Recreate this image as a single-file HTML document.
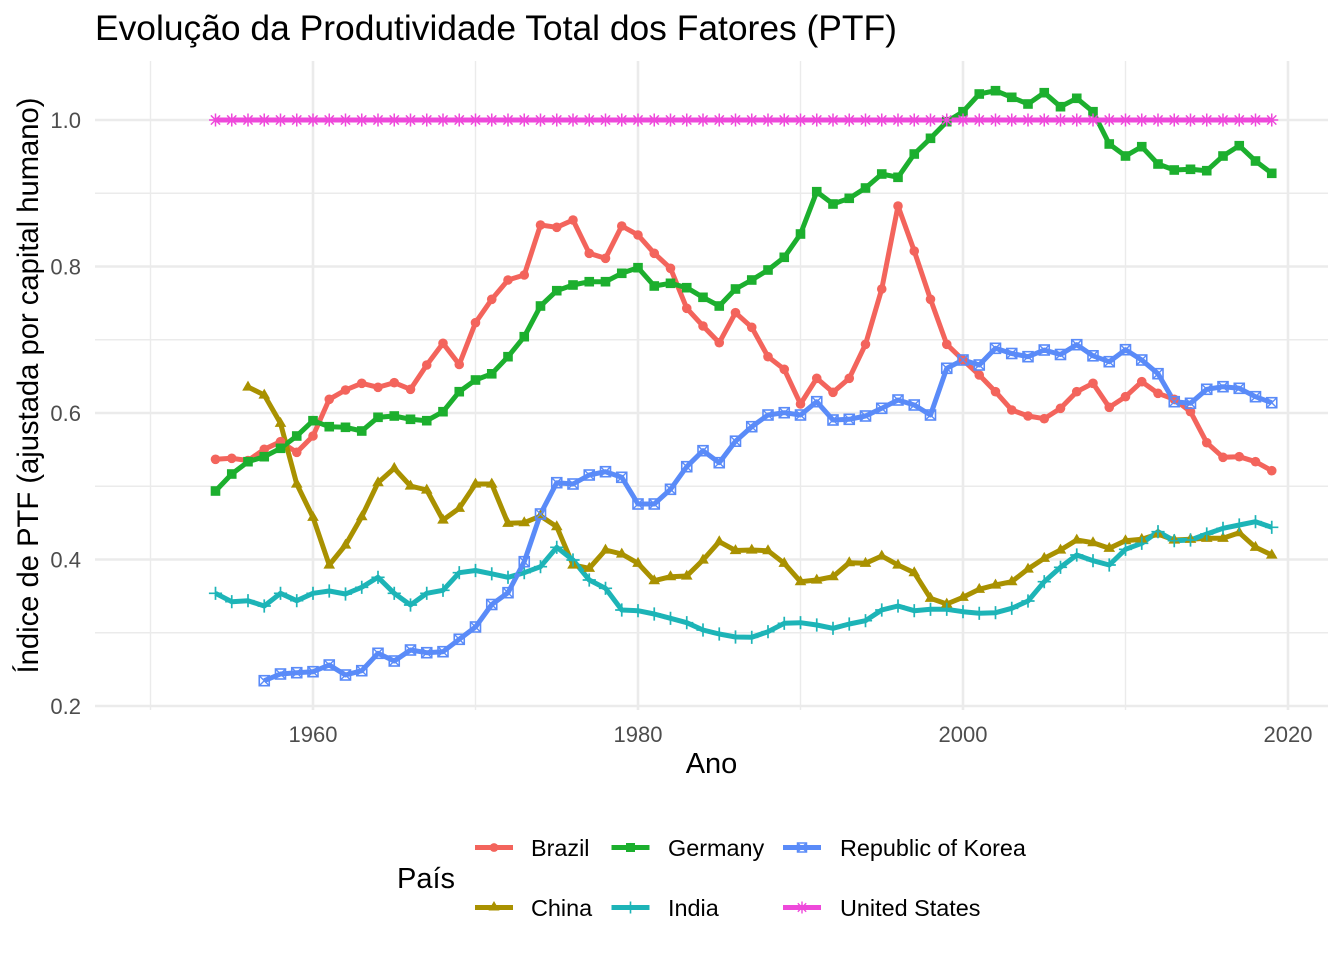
<!DOCTYPE html>
<html>
<head>
<meta charset="utf-8">
<style>
  html,body{margin:0;padding:0;background:#ffffff;}
  svg{display:block;}
  text{font-family:"Liberation Sans", Arial, Helvetica, sans-serif;}
</style>
</head>
<body>
<svg width="1344" height="960" viewBox="0 0 1344 960" xmlns="http://www.w3.org/2000/svg">
  <defs>
    <marker id="mBr" markerUnits="userSpaceOnUse" markerWidth="20" markerHeight="20" refX="10" refY="10" style="overflow:visible">
      <circle cx="10" cy="10" r="4.8" fill="#F3645C"/>
    </marker>
    <marker id="mCh" markerUnits="userSpaceOnUse" markerWidth="20" markerHeight="20" refX="10" refY="10" style="overflow:visible">
      <polygon points="10,3.6 15.8,13.6 4.2,13.6" fill="#A99100"/>
    </marker>
    <marker id="mGe" markerUnits="userSpaceOnUse" markerWidth="20" markerHeight="20" refX="10" refY="10" style="overflow:visible">
      <rect x="5.2" y="5.2" width="9.6" height="9.6" fill="#1CAF2E"/>
    </marker>
    <marker id="mIn" markerUnits="userSpaceOnUse" markerWidth="20" markerHeight="20" refX="10" refY="10" style="overflow:visible">
      <path d="M3.4,10 H16.6 M10,3.4 V16.6" stroke="#1DB4B7" stroke-width="1.7" fill="none"/>
    </marker>
    <marker id="mKo" markerUnits="userSpaceOnUse" markerWidth="20" markerHeight="20" refX="10" refY="10" style="overflow:visible">
      <rect x="5" y="5" width="10" height="10" stroke="#5A8BF8" stroke-width="1.6" fill="none"/>
      <path d="M5,5 L15,15 M15,5 L5,15" stroke="#5A8BF8" stroke-width="1.4" fill="none"/>
    </marker>
    <marker id="mUS" markerUnits="userSpaceOnUse" markerWidth="20" markerHeight="20" refX="10" refY="10" style="overflow:visible">
      <path d="M3.5,10 H16.5 M10,3.5 V16.5 M5.4,5.4 L14.6,14.6 M14.6,5.4 L5.4,14.6" stroke="#EE49DA" stroke-width="1.5" fill="none"/>
    </marker>
  </defs>

  <rect x="0" y="0" width="1344" height="960" fill="#ffffff"/>

  <!-- Title -->
  <text x="95" y="40" font-size="35.4" fill="#000000">Evolução da Produtividade Total dos Fatores (PTF)</text>

  <!-- Grid: minor -->
  <g stroke="#EBEBEB" stroke-width="1.4" fill="none">
    <line x1="95" y1="632.75" x2="1328" y2="632.75"/>
    <line x1="95" y1="486.25" x2="1328" y2="486.25"/>
    <line x1="95" y1="339.75" x2="1328" y2="339.75"/>
    <line x1="95" y1="193.25" x2="1328" y2="193.25"/>
    <line x1="150.5" y1="61" x2="150.5" y2="710"/>
    <line x1="475.5" y1="61" x2="475.5" y2="710"/>
    <line x1="800.5" y1="61" x2="800.5" y2="710"/>
    <line x1="1125.5" y1="61" x2="1125.5" y2="710"/>
  </g>
  <!-- Grid: major -->
  <g stroke="#EBEBEB" stroke-width="2.6" fill="none">
    <line x1="95" y1="706" x2="1328" y2="706"/>
    <line x1="95" y1="559.5" x2="1328" y2="559.5"/>
    <line x1="95" y1="413" x2="1328" y2="413"/>
    <line x1="95" y1="266.5" x2="1328" y2="266.5"/>
    <line x1="95" y1="120" x2="1328" y2="120"/>
    <line x1="313" y1="61" x2="313" y2="710"/>
    <line x1="638" y1="61" x2="638" y2="710"/>
    <line x1="963" y1="61" x2="963" y2="710"/>
    <line x1="1288" y1="61" x2="1288" y2="710"/>
  </g>

  <!-- Y tick labels -->
  <g font-size="22" fill="#4D4D4D" text-anchor="end">
    <text x="81" y="713.9">0.2</text>
    <text x="81" y="567.4">0.4</text>
    <text x="81" y="420.9">0.6</text>
    <text x="81" y="274.4">0.8</text>
    <text x="81" y="127.9">1.0</text>
  </g>
  <!-- X tick labels -->
  <g font-size="22" fill="#4D4D4D" text-anchor="middle">
    <text x="313" y="742">1960</text>
    <text x="638" y="742">1980</text>
    <text x="963" y="742">2000</text>
    <text x="1288" y="742">2020</text>
  </g>

  <!-- Axis titles -->
  <text x="711.5" y="773" font-size="29" text-anchor="middle" fill="#000000">Ano</text>
  <text transform="translate(38,385.5) rotate(-90)" x="0" y="0" font-size="29.2" text-anchor="middle" fill="#000000">Índice de PTF (ajustada por capital humano)</text>

  <!-- Series lines -->
  <g fill="none" stroke-width="5" stroke-linejoin="round" stroke-linecap="butt">
    <polyline stroke="#F3645C" points="215.5,459.3 231.75,458.3 248,460.5 264.25,449.3 280.5,441.7 296.75,452.3 313,436 329.25,399.3 345.5,390 361.75,383.3 378,387.3 394.25,382.7 410.5,389.3 426.75,365 443,343.3 459.25,364.5 475.5,322.7 491.75,299.3 508,280 524.25,275 540.5,225 556.75,227.3 573,220 589.25,253.3 605.5,258.3 621.75,226 638,235 654.25,253.3 670.5,268.3 686.75,308.3 703,326 719.25,342.7 735.5,312.7 751.75,327.3 768,356.7 784.25,369.3 800.5,404 816.75,378.3 833,392.3 849.25,378.3 865.5,344.3 881.75,289 898,206 914.25,251 930.5,299.3 946.75,344.3 963,360 979.25,375 995.5,391.7 1011.75,410 1028,416 1044.25,418.7 1060.5,408.3 1076.75,391.7 1093,383.3 1109.25,407.3 1125.5,396.7 1141.75,381.7 1158,393.3 1174.25,399.3 1190.5,411.7 1206.75,442.7 1223,457.3 1239.25,456.7 1255.5,461.7 1271.75,470.7"/>
    <polyline stroke="#A99100" points="248,387 264.25,395 280.5,423.3 296.75,484 313,517.3 329.25,565 345.5,545 361.75,516.7 378,482.7 394.25,468.3 410.5,486 426.75,490 443,520 459.25,508.3 475.5,484 491.75,484 508,523.3 524.25,522.7 540.5,516 556.75,526.7 573,565 589.25,568.3 605.5,550 621.75,554 638,563.3 654.25,580.7 670.5,576.7 686.75,576 703,560 719.25,541.7 735.5,550.5 751.75,550 768,550.7 784.25,563.3 800.5,581.7 816.75,580 833,576.7 849.25,562.7 865.5,563.3 881.75,556 898,565 914.25,572.7 930.5,598.3 946.75,604 963,597.3 979.25,589.3 995.5,585 1011.75,581.7 1028,569 1044.25,558.3 1060.5,550 1076.75,540 1093,542.7 1109.25,548.3 1125.5,540.7 1141.75,539.3 1158,534 1174.25,540 1190.5,539.3 1206.75,538.3 1223,538.3 1239.25,532.7 1255.5,547.3 1271.75,555"/>
    <polyline stroke="#1CAF2E" points="215.5,491 231.75,474 248,461.7 264.25,456.7 280.5,448.3 296.75,436 313,420.7 329.25,426.7 345.5,427.3 361.75,431 378,417.3 394.25,416 410.5,419.3 426.75,420.7 443,411.7 459.25,391.7 475.5,380 491.75,373.8 508,356.7 524.25,336.7 540.5,306 556.75,290.7 573,285 589.25,281.7 605.5,281.7 621.75,273.3 638,267.7 654.25,286 670.5,283.3 686.75,287.7 703,297.3 719.25,306 735.5,289 751.75,280 768,270 784.25,257.3 800.5,234 816.75,191.7 833,204 849.25,198.3 865.5,188 881.75,174 898,177.3 914.25,154 930.5,138.3 946.75,121.7 963,111.7 979.25,94 995.5,90.7 1011.75,97.3 1028,104 1044.25,92.7 1060.5,106.7 1076.75,98.3 1093,111.7 1109.25,144 1125.5,156 1141.75,146.7 1158,164 1174.25,170 1190.5,169.3 1206.75,170.7 1223,156 1239.25,145.7 1255.5,161 1271.75,173.3"/>
    <polyline stroke="#1DB4B7" points="215.5,593.3 231.75,601.7 248,600.7 264.25,606 280.5,593.3 296.75,600.7 313,593.3 329.25,591 345.5,594 361.75,587.3 378,577.3 394.25,593.3 410.5,605 426.75,593.3 443,590.3 459.25,572.7 475.5,570.5 491.75,573.8 508,577.3 524.25,572.7 540.5,566.7 556.75,547.3 573,560 589.25,580 605.5,588.3 621.75,610 638,610.7 654.25,614 670.5,618.3 686.75,622.7 703,630 719.25,634 735.5,637 751.75,637.3 768,631.7 784.25,623.3 800.5,622.7 816.75,625 833,628.3 849.25,624 865.5,620.7 881.75,610 898,606 914.25,610.7 930.5,609.3 946.75,609.3 963,611.7 979.25,613.3 995.5,612.7 1011.75,608.3 1028,601 1044.25,581.7 1060.5,567.3 1076.75,555 1093,560.7 1109.25,565 1125.5,549.3 1141.75,543.3 1158,531.7 1174.25,540.7 1190.5,540 1206.75,534 1223,528.3 1239.25,525 1255.5,521.7 1271.75,527.3"/>
    <polyline stroke="#5A8BF8" points="264.25,680.7 280.5,674 296.75,672.7 313,671.7 329.25,665 345.5,675 361.75,670.7 378,653.3 394.25,661 410.5,650 426.75,652.7 443,651.7 459.25,639.3 475.5,627 491.75,604.5 508,592.7 524.25,561.7 540.5,514 556.75,482.7 573,484 589.25,475 605.5,471.7 621.75,477.3 638,504 654.25,504 670.5,489.3 686.75,466.7 703,450.7 719.25,462.7 735.5,441.2 751.75,426.7 768,415 784.25,412.7 800.5,415 816.75,401.7 833,420 849.25,419.3 865.5,416 881.75,408.3 898,400 914.25,405 930.5,415 946.75,368.3 963,360 979.25,365 995.5,348.3 1011.75,353.5 1028,356.7 1044.25,350 1060.5,354.5 1076.75,344.7 1093,355.8 1109.25,361.7 1125.5,349.7 1141.75,360 1158,373.7 1174.25,401.7 1190.5,403.3 1206.75,389.3 1223,386.7 1239.25,388.3 1255.5,396.7 1271.75,402.7"/>
    <polyline stroke="#EE49DA" points="215.5,120 1271.75,120"/>
  </g>

  <!-- Series points (drawn after all lines) -->
  <g fill="none" stroke="none">
    <polyline marker-start="url(#mBr)" marker-mid="url(#mBr)" marker-end="url(#mBr)" points="215.5,459.3 231.75,458.3 248,460.5 264.25,449.3 280.5,441.7 296.75,452.3 313,436 329.25,399.3 345.5,390 361.75,383.3 378,387.3 394.25,382.7 410.5,389.3 426.75,365 443,343.3 459.25,364.5 475.5,322.7 491.75,299.3 508,280 524.25,275 540.5,225 556.75,227.3 573,220 589.25,253.3 605.5,258.3 621.75,226 638,235 654.25,253.3 670.5,268.3 686.75,308.3 703,326 719.25,342.7 735.5,312.7 751.75,327.3 768,356.7 784.25,369.3 800.5,404 816.75,378.3 833,392.3 849.25,378.3 865.5,344.3 881.75,289 898,206 914.25,251 930.5,299.3 946.75,344.3 963,360 979.25,375 995.5,391.7 1011.75,410 1028,416 1044.25,418.7 1060.5,408.3 1076.75,391.7 1093,383.3 1109.25,407.3 1125.5,396.7 1141.75,381.7 1158,393.3 1174.25,399.3 1190.5,411.7 1206.75,442.7 1223,457.3 1239.25,456.7 1255.5,461.7 1271.75,470.7"/>
    <polyline marker-start="url(#mCh)" marker-mid="url(#mCh)" marker-end="url(#mCh)" points="248,387 264.25,395 280.5,423.3 296.75,484 313,517.3 329.25,565 345.5,545 361.75,516.7 378,482.7 394.25,468.3 410.5,486 426.75,490 443,520 459.25,508.3 475.5,484 491.75,484 508,523.3 524.25,522.7 540.5,516 556.75,526.7 573,565 589.25,568.3 605.5,550 621.75,554 638,563.3 654.25,580.7 670.5,576.7 686.75,576 703,560 719.25,541.7 735.5,550.5 751.75,550 768,550.7 784.25,563.3 800.5,581.7 816.75,580 833,576.7 849.25,562.7 865.5,563.3 881.75,556 898,565 914.25,572.7 930.5,598.3 946.75,604 963,597.3 979.25,589.3 995.5,585 1011.75,581.7 1028,569 1044.25,558.3 1060.5,550 1076.75,540 1093,542.7 1109.25,548.3 1125.5,540.7 1141.75,539.3 1158,534 1174.25,540 1190.5,539.3 1206.75,538.3 1223,538.3 1239.25,532.7 1255.5,547.3 1271.75,555"/>
    <polyline marker-start="url(#mGe)" marker-mid="url(#mGe)" marker-end="url(#mGe)" points="215.5,491 231.75,474 248,461.7 264.25,456.7 280.5,448.3 296.75,436 313,420.7 329.25,426.7 345.5,427.3 361.75,431 378,417.3 394.25,416 410.5,419.3 426.75,420.7 443,411.7 459.25,391.7 475.5,380 491.75,373.8 508,356.7 524.25,336.7 540.5,306 556.75,290.7 573,285 589.25,281.7 605.5,281.7 621.75,273.3 638,267.7 654.25,286 670.5,283.3 686.75,287.7 703,297.3 719.25,306 735.5,289 751.75,280 768,270 784.25,257.3 800.5,234 816.75,191.7 833,204 849.25,198.3 865.5,188 881.75,174 898,177.3 914.25,154 930.5,138.3 946.75,121.7 963,111.7 979.25,94 995.5,90.7 1011.75,97.3 1028,104 1044.25,92.7 1060.5,106.7 1076.75,98.3 1093,111.7 1109.25,144 1125.5,156 1141.75,146.7 1158,164 1174.25,170 1190.5,169.3 1206.75,170.7 1223,156 1239.25,145.7 1255.5,161 1271.75,173.3"/>
    <polyline marker-start="url(#mIn)" marker-mid="url(#mIn)" marker-end="url(#mIn)" points="215.5,593.3 231.75,601.7 248,600.7 264.25,606 280.5,593.3 296.75,600.7 313,593.3 329.25,591 345.5,594 361.75,587.3 378,577.3 394.25,593.3 410.5,605 426.75,593.3 443,590.3 459.25,572.7 475.5,570.5 491.75,573.8 508,577.3 524.25,572.7 540.5,566.7 556.75,547.3 573,560 589.25,580 605.5,588.3 621.75,610 638,610.7 654.25,614 670.5,618.3 686.75,622.7 703,630 719.25,634 735.5,637 751.75,637.3 768,631.7 784.25,623.3 800.5,622.7 816.75,625 833,628.3 849.25,624 865.5,620.7 881.75,610 898,606 914.25,610.7 930.5,609.3 946.75,609.3 963,611.7 979.25,613.3 995.5,612.7 1011.75,608.3 1028,601 1044.25,581.7 1060.5,567.3 1076.75,555 1093,560.7 1109.25,565 1125.5,549.3 1141.75,543.3 1158,531.7 1174.25,540.7 1190.5,540 1206.75,534 1223,528.3 1239.25,525 1255.5,521.7 1271.75,527.3"/>
    <polyline marker-start="url(#mKo)" marker-mid="url(#mKo)" marker-end="url(#mKo)" points="264.25,680.7 280.5,674 296.75,672.7 313,671.7 329.25,665 345.5,675 361.75,670.7 378,653.3 394.25,661 410.5,650 426.75,652.7 443,651.7 459.25,639.3 475.5,627 491.75,604.5 508,592.7 524.25,561.7 540.5,514 556.75,482.7 573,484 589.25,475 605.5,471.7 621.75,477.3 638,504 654.25,504 670.5,489.3 686.75,466.7 703,450.7 719.25,462.7 735.5,441.2 751.75,426.7 768,415 784.25,412.7 800.5,415 816.75,401.7 833,420 849.25,419.3 865.5,416 881.75,408.3 898,400 914.25,405 930.5,415 946.75,368.3 963,360 979.25,365 995.5,348.3 1011.75,353.5 1028,356.7 1044.25,350 1060.5,354.5 1076.75,344.7 1093,355.8 1109.25,361.7 1125.5,349.7 1141.75,360 1158,373.7 1174.25,401.7 1190.5,403.3 1206.75,389.3 1223,386.7 1239.25,388.3 1255.5,396.7 1271.75,402.7"/>
    <polyline marker-start="url(#mUS)" marker-mid="url(#mUS)" marker-end="url(#mUS)" points="215.5,120 231.75,120 248,120 264.25,120 280.5,120 296.75,120 313,120 329.25,120 345.5,120 361.75,120 378,120 394.25,120 410.5,120 426.75,120 443,120 459.25,120 475.5,120 491.75,120 508,120 524.25,120 540.5,120 556.75,120 573,120 589.25,120 605.5,120 621.75,120 638,120 654.25,120 670.5,120 686.75,120 703,120 719.25,120 735.5,120 751.75,120 768,120 784.25,120 800.5,120 816.75,120 833,120 849.25,120 865.5,120 881.75,120 898,120 914.25,120 930.5,120 946.75,120 963,120 979.25,120 995.5,120 1011.75,120 1028,120 1044.25,120 1060.5,120 1076.75,120 1093,120 1109.25,120 1125.5,120 1141.75,120 1158,120 1174.25,120 1190.5,120 1206.75,120 1223,120 1239.25,120 1255.5,120 1271.75,120"/>
  </g>

  <!-- Legend -->
  <text x="397" y="888" font-size="29" fill="#000000">País</text>
  <g stroke-width="5" fill="none">
    <line x1="475" y1="847.5" x2="513" y2="847.5" stroke="#F3645C"/>
    <line x1="611.5" y1="847.5" x2="649.5" y2="847.5" stroke="#1CAF2E"/>
    <line x1="783" y1="847.5" x2="821" y2="847.5" stroke="#5A8BF8"/>
    <line x1="475" y1="907.5" x2="513" y2="907.5" stroke="#A99100"/>
    <line x1="611.5" y1="907.5" x2="649.5" y2="907.5" stroke="#1DB4B7"/>
    <line x1="783" y1="907.5" x2="821" y2="907.5" stroke="#EE49DA"/>
  </g>
  <!-- legend markers -->
  <circle cx="494" cy="847.5" r="4.4" fill="#F3645C"/>
  <rect x="626" y="843" width="9" height="9" fill="#1CAF2E"/>
  <g stroke="#5A8BF8" stroke-width="1.5" fill="none">
    <rect x="797.5" y="843" width="9" height="9"/>
    <path d="M797.5,843 L806.5,852 M806.5,843 L797.5,852"/>
  </g>
  <polygon points="494,901 499.5,910.5 488.5,910.5" fill="#A99100"/>
  <path d="M624.5,907.5 H636.5 M630.5,901.5 V913.5" stroke="#1DB4B7" stroke-width="1.6" fill="none"/>
  <path d="M796,907.5 H808 M802,901.5 V913.5 M797.8,903.3 L806.2,911.7 M806.2,903.3 L797.8,911.7" stroke="#EE49DA" stroke-width="1.4" fill="none"/>

  <g font-size="23.4" fill="#000000">
    <text x="531" y="856">Brazil</text>
    <text x="668" y="856">Germany</text>
    <text x="840" y="856">Republic of Korea</text>
    <text x="531" y="916">China</text>
    <text x="668" y="916">India</text>
    <text x="840" y="916">United States</text>
  </g>
</svg>
</body>
</html>
